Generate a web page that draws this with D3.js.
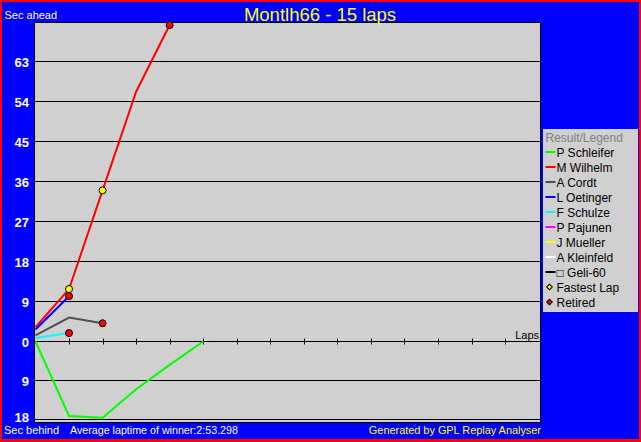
<!DOCTYPE html>
<html><head><meta charset="utf-8">
<script src="https://cdn.jsdelivr.net/npm/d3@7"></script>
<style>
html,body{margin:0;padding:0;background:#fff;}
svg{display:block;}
text{font-family:"Liberation Sans",Arial,sans-serif;}
</style>
</head><body>
<script>
// ---- data ----
const drivers = ["P Schleifer","M Wilhelm","A Cordt","L Oetinger","F Schulze","P Pajunen","J Mueller","A Kleinfeld","\u25A1 Geli-60"];
const driverColors = ["#00ff00","#ff0000","#505050","#0000ff","#00ffff","#ff00ff","#ffff00","#ffffff","#000000"];
const schleifer = [0,-17.2,-17.6,-11.0,-5.4,0];
const wilhelm = [3.2,11.8,34.0,56.2,71.2];
const cordt = [1.4,5.4,4.1];
const oetinger = [2.7,10.2];
const schulze = [0.8,1.9];
const pajunen = [];
const mueller = [];
const kleinfeld = [];
const geli = [];
const seriesValues = [schleifer,wilhelm,cordt,oetinger,schulze,pajunen,mueller,kleinfeld,geli];
const fastestLapLaps = [1,2];
const fastestLapValues = [11.8,34.0];
const retiredLaps = [4,1,2,1];
const retiredValues = [71.2,10.2,4.1,1.9];
const yTickValues = [-18,-9,0,9,18,27,36,45,54,63];
const lapTicks = d3.range(1,15);
const totalLaps = 15;

const W=641,H=442;
const svg=d3.select("body").append("svg").attr("width",W).attr("height",H);

// background + border
svg.append("rect").attr("x",0).attr("y",0).attr("width",W).attr("height",H).attr("fill","#ff0000");
svg.append("rect").attr("x",2).attr("y",2).attr("width",W-4).attr("height",H-5).attr("fill","#0000ff");

// plot area
const px0=34,px1=541,py0=22,py1=423;
svg.append("rect").attr("x",px0+0.5).attr("y",py0+0.5).attr("width",px1-px0-1).attr("height",py1-py0-1)
  .attr("fill","#d0d0d0").attr("stroke","#000").attr("stroke-width",1);

const x=d3.scaleLinear().domain([0,totalLaps]).range([35.5,538.6]);
const y=d3.scaleLinear().domain([-18,0,63]).range([419.5,341.5,61.5]);

// gridlines
svg.append("g").selectAll("line").data(yTickValues).join("line")
  .attr("x1",px0+1).attr("x2",px1-1)
  .attr("y1",d=>y(d)).attr("y2",d=>y(d))
  .attr("stroke","#000").attr("stroke-width",1);

// lap ticks on zero line
svg.append("g").selectAll("line").data(lapTicks).join("line")
  .attr("x1",d=>Math.round(x(d))+0.5).attr("x2",d=>Math.round(x(d))+0.5)
  .attr("y1",y(0)-3).attr("y2",y(0)+3)
  .attr("stroke","#000").attr("stroke-width",1);

// y labels
const yAxis=d3.axisLeft(y).tickValues(yTickValues).tickFormat(d=>Math.abs(d)).tickSize(0).tickPadding(0);
const ya=svg.append("g").attr("transform","translate(29,0)").call(yAxis);
ya.select(".domain").remove();
ya.selectAll("text").attr("fill","#fff").attr("font-size","13px").attr("font-weight","bold")
  .attr("font-family","'Liberation Sans',Arial,sans-serif")
  .attr("dy",d=>d===-18?"2px":"0.36em");

// lines
const line=d3.line().x((d,i)=>x(i)).y(d=>y(d));
svg.append("g").selectAll("path").data(seriesValues.map((v,i)=>({v,c:driverColors[i]})).filter(s=>s.v.length))
  .join("path").attr("d",s=>line(s.v)).attr("fill","none").attr("stroke",s=>s.c).attr("stroke-width",2);

// markers
function marker(g,cx,cy,fill){
  g.append("circle").attr("cx",cx).attr("cy",cy).attr("r",3.5).attr("fill",fill).attr("stroke","#000").attr("stroke-width",1);
}
const mg=svg.append("g");
fastestLapLaps.forEach((l,i)=>marker(mg,x(l),y(fastestLapValues[i]),"#ffff00"));
retiredLaps.forEach((l,i)=>marker(mg,x(l),y(retiredValues[i]),"#ff0000"));

// texts
svg.append("text").attr("x",320).attr("y",20.5).attr("text-anchor","middle").attr("fill","#ffff00")
  .attr("font-size","18.5px").text("Montlh66 - 15 laps");
svg.append("text").attr("x",4.5).attr("y",19.3).attr("fill","#fff").attr("font-size","11px").text("Sec ahead");
svg.append("text").attr("x",4).attr("y",434.3).attr("fill","#fff").attr("font-size","11px").text("Sec behind");
svg.append("text").attr("x",70).attr("y",434.3).attr("fill","#fff").attr("font-size","10.7px").text("Average laptime of winner:2:53.298");
svg.append("text").attr("x",541).attr("y",434.3).attr("text-anchor","end").attr("fill","#ffff00").attr("font-size","10.9px").text("Generated by GPL Replay Analyser");
svg.append("text").attr("x",539).attr("y",339).attr("text-anchor","end").attr("fill","#000").attr("font-size","11px").text("Laps");

// legend
const lg=svg.append("g");
lg.append("rect").attr("x",543).attr("y",129).attr("width",95).attr("height",183).attr("fill","#d0d0d0");
lg.append("text").attr("x",545.5).attr("y",141.5).attr("fill","#808080").attr("font-size","12px").text("Result/Legend");
drivers.forEach((d,i)=>{
  const by=156.5+15*i;
  lg.append("line").attr("x1",545.5).attr("x2",555.5).attr("y1",by-4.5).attr("y2",by-4.5)
    .attr("stroke",driverColors[i]).attr("stroke-width",2);
  lg.append("text").attr("x",556.5).attr("y",by).attr("fill","#000").attr("font-size","12px").text(d);
});
const sym=d3.symbol().type(d3.symbolSquare).size(16);
[["Fastest Lap","#ffff00"],["Retired","#ff0000"]].forEach((m,j)=>{
  const by=156.5+15*(drivers.length+j);
  lg.append("path").attr("d",sym()).attr("transform",`translate(549.5,${by-4.5}) rotate(45)`)
    .attr("fill",m[1]).attr("stroke","#000").attr("stroke-width",1);
  lg.append("text").attr("x",556.5).attr("y",by).attr("fill","#000").attr("font-size","12px").text(m[0]);
});
</script>
</body></html>
